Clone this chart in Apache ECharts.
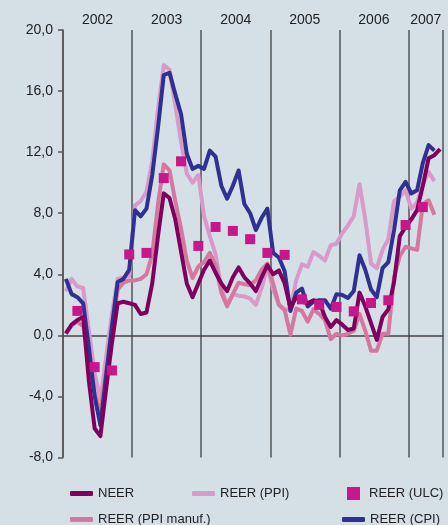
<!DOCTYPE html>
<html>
<head>
<meta charset="utf-8">
<script src="https://cdn.jsdelivr.net/npm/echarts@6/dist/echarts.min.js"></script>
<style>
  html, body { margin: 0; padding: 0; background: #d4dfe6; }
  #chart { width: 448px; height: 525px; }
</style>
</head>
<body>
<div id="chart"></div>
<script>
// monthly series, first value = January 2002
var neer = [0.13, 0.7, 1.0, 1.2, -3.0, -6.1, -6.6, -3.5, -0.5, 2.1, 2.2, 2.1,
            2.0, 1.4, 1.5, 3.4, 6.5, 9.3, 9.0, 7.6, 5.5, 3.4, 2.5, 3.4,
            4.3, 4.9, 4.1, 3.4, 2.9, 3.8, 4.45, 3.8, 3.4, 2.9, 3.8, 4.6,
            4.0, 4.25, 3.4, 1.8, 2.5, 2.2, 2.1, 2.3, 2.2, 1.2, 0.55, 1.0,
            0.7, 0.35, 0.45, 2.8, 1.9, 0.8, -0.3, 1.2, 1.7, 3.5, 6.5, 7.1,
            7.6, 8.2, 9.8, 11.6, 11.8, 12.2];
var reerPpi = [2.9, 3.7, 3.2, 3.1, 0.3, -2.5, -4.2, -1.4, 1.4, 3.7, 3.8, 3.9,
               8.5, 8.8, 9.4, 11.4, 14.8, 17.7, 17.4, 15.1, 12.7, 10.6, 10.0, 10.5,
               7.8, 6.5, 5.3, 3.1, 2.0, 2.7, 2.6, 2.55, 2.4, 2.0, 3.1, 4.5,
               3.0, 2.0, 1.7, 1.7, 3.6, 4.65, 4.5, 5.45, 5.2, 4.9, 5.9, 6.0,
               6.7, 7.2, 7.8, 9.9, 7.6, 4.7, 4.4, 5.6, 6.3, 8.8, 9.1, 9.5,
               8.3, 8.7, 9.9, 10.7, 10.1];
var reerPpiManuf = [0.1, 0.65, 0.9, 0.6, -1.5, -3.8, -5.1, -2.3, 0.4, 3.0, 3.45, 3.6,
                    3.6, 3.7, 4.0, 5.3, 8.6, 11.2, 10.8, 8.8, 7.0, 4.9, 3.75, 4.5,
                    4.8, 5.4, 4.6, 2.8, 1.9, 2.7, 3.45, 3.35, 3.3, 3.6, 4.3, 4.7,
                    3.4, 2.0, 1.65, 0.05, 1.75, 1.6, 0.9, 1.7, 1.4, 1.0, -0.25, 0.1,
                    0.0, 0.1, 0.3, 1.4, 0.3, -1.0, -1.0, 0.1, 0.1, 3.8, 5.2, 5.8,
                    5.7, 5.6, 8.6, 8.85, 7.9];
var reerCpi = [3.7, 2.7, 2.5, 2.1, -0.8, -4.0, -5.9, -2.6, 0.6, 3.5, 3.7, 4.3,
               8.2, 7.8, 8.3, 10.5, 13.6, 17.05, 17.2, 15.8, 14.5, 11.9, 10.9, 11.1,
               10.9, 12.1, 11.7, 9.8, 8.96, 9.8, 10.8, 8.6, 8.0, 6.9, 7.7, 8.3,
               5.4, 5.1, 4.2, 1.6, 2.8, 3.06, 1.9, 2.2, 2.3, 2.3, 1.75, 2.7,
               2.65, 2.45, 2.9, 5.25, 4.3, 3.0, 2.5, 4.4, 4.8, 6.9, 9.5, 10.05,
               9.3, 9.5, 11.3, 12.46, 12.1];
// quarterly series (month index of each value)
var ulcMonths = [2, 5, 8, 11, 14, 17, 20, 23, 26, 29, 32, 35, 38, 41, 44, 47, 50, 53, 56, 59, 62];
var reerUlc = [1.6, -2.08, -2.3, 5.3, 5.4, 10.3, 11.4, 5.86, 7.1, 6.84, 6.3, 5.4,
               5.27, 2.36, 2.0, 1.86, 1.57, 2.12, 2.3, 7.23, 8.4];

var yearLabels = ['2002', '2003', '2004', '2005', '2006', '2007'];
var yearLabelMonths = [6, 18, 30, 42, 54, 63];
var yTicks = [-8, -4, 0, 4, 8, 12, 16, 20];

function monthly(arr) {
    return arr.map(function (v, i) { return [i + 0.5, v]; });
}

var chart = echarts.init(document.getElementById('chart'));
var font = '"Liberation Sans", Arial, sans-serif';
var lineLegend = function (name, left, top) {
    return {
        data: [name], left: left, top: top,
        icon: 'roundRect', itemWidth: 23, itemHeight: 5,
        textStyle: { fontSize: 13, color: '#222', fontFamily: font },
        selectedMode: false
    };
};

chart.setOption({
    animation: false,
    backgroundColor: '#d4dfe6',
    grid: { left: 63, right: 5, top: 30, bottom: 67.5 },
    legend: [
        lineLegend('NEER', 65, 482),
        lineLegend('REER (PPI)', 187, 482),
        {
            data: ['REER (ULC)'], left: 342, top: 482,
            icon: 'rect', itemWidth: 13, itemHeight: 13,
            textStyle: { fontSize: 13, color: '#222', fontFamily: font, padding: [0, 0, 0, 4] },
            selectedMode: false
        },
        lineLegend('REER (PPI manuf.)', 65, 508),
        lineLegend('REER (CPI)', 337, 508)
    ],
    xAxis: [
        {
            type: 'value', min: 0, max: 66, interval: 12,
            axisLine: { show: true, onZero: true, lineStyle: { color: '#444', width: 1.5 } },
            axisTick: { show: false },
            axisLabel: { show: false },
            splitLine: { show: true, lineStyle: { color: '#555', width: 1.5 } }
        },
        {
            type: 'value', min: 0, max: 66, interval: 3, position: 'top',
            axisLine: { show: false },
            axisTick: { show: false },
            splitLine: { show: false },
            axisLabel: {
                margin: 3, fontSize: 14, color: '#222', fontFamily: font,
                formatter: function (v) {
                    var k = yearLabelMonths.indexOf(v);
                    return k >= 0 ? yearLabels[k] : '';
                }
            }
        }
    ],
    yAxis: {
        type: 'value', min: yTicks[0], max: yTicks[yTicks.length - 1], interval: 4,
        axisLine: { show: true, onZero: false, lineStyle: { color: '#555', width: 1.5 } },
        axisTick: { show: true, length: 5, lineStyle: { color: '#555', width: 1.5 } },
        splitLine: { show: false },
        axisLabel: {
            margin: 10, fontSize: 14, color: '#222', fontFamily: font,
            formatter: function (v) { return v.toFixed(1).replace('.', ','); }
        }
    },
    series: [
        {
            name: 'REER (PPI)', type: 'line', data: monthly(reerPpi),
            showSymbol: false, color: '#d79ac9',
            lineStyle: { width: 4, join: 'round' }
        },
        {
            name: 'REER (PPI manuf.)', type: 'line', data: monthly(reerPpiManuf),
            showSymbol: false, color: '#d6779f',
            lineStyle: { width: 4, join: 'round' }
        },
        {
            name: 'REER (CPI)', type: 'line', data: monthly(reerCpi),
            showSymbol: false, color: '#2e3192',
            lineStyle: { width: 4, join: 'round' }
        },
        {
            name: 'NEER', type: 'line', data: monthly(neer),
            showSymbol: false, color: '#80005f',
            lineStyle: { width: 4, join: 'round' }
        },
        {
            name: 'REER (ULC)', type: 'scatter', z: 10,
            data: reerUlc.map(function (v, k) { return [ulcMonths[k] + 0.5, v]; }),
            symbol: 'rect', symbolSize: 10, color: '#c8178a',
            itemStyle: { opacity: 1 }
        }
    ]
});
</script>
</body>
</html>
